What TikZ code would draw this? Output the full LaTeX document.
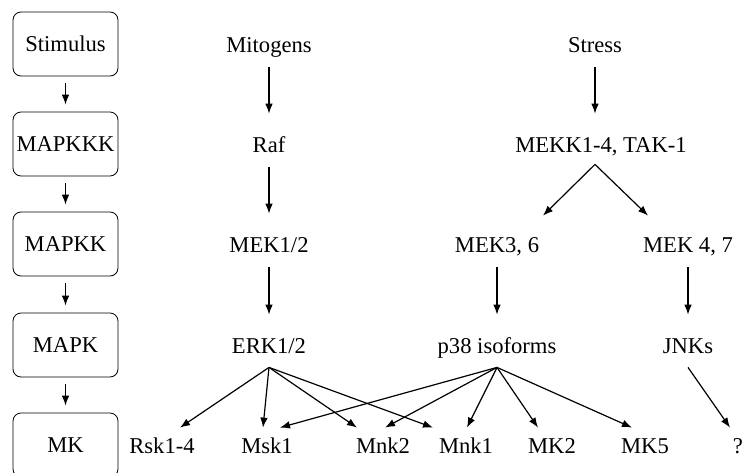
\documentclass[tikz,border=0pt]{standalone}
\usepackage{fontspec}
\setmainfont{Liberation Serif}
\usetikzlibrary{calc,arrows.meta}

\begin{document}
\begin{tikzpicture}[x=0.5pt,y=-0.5pt,
    font=\fontsize{11.3}{13}\selectfont,
    level/.style={draw,rounded corners=4pt,minimum width=52.5pt,minimum height=32pt,inner sep=0pt},
    kin/.style={anchor=base,inner sep=0pt,text height=8pt,text depth=2.5pt},
    arr/.style={-{Latex[length=5pt,width=3.8pt]},line width=.6pt},
    down/.style={arr,shorten <=5pt,shorten >=11pt}]
  \useasboundingbox (0,0) rectangle (745,472);
  % cascade levels
  \node[level] (stim)   at (65.5,44)  {Stimulus};
  \node[level] (mapkkk) at (65.5,144) {MAPKKK};
  \node[level] (mapkk)  at (65.5,244) {MAPKK};
  \node[level] (mapk)   at (65.5,345) {MAPK};
  \node[level] (mk)     at (65.5,445) {MK};
  \foreach \a/\b in {stim/mapkkk,mapkkk/mapkk,mapkk/mapk,mapk/mk}
    \draw[arr,shorten <=3.5pt,shorten >=3.5pt] (\a) -- (\b);

  % mitogen branch
  \node[kin] (mito)  at (269,52)  {Mitogens};
  \node[kin] (raf)   at (269,152) {Raf};
  \node[kin] (mek12) at (269,252) {MEK1/2};
  \node[kin] (erk)   at (269,353) {ERK1/2};
  \draw[down] (mito) -- (raf);
  \draw[down] (raf) -- (mek12);
  \draw[down] (mek12) -- (erk);

  % stress branch
  \node[kin] (stress) at (595,52)  {Stress};
  \node[kin] (mekk)   at (601,152) {MEKK1-4, TAK-1};
  \node[kin] (mek36)  at (497,252) {MEK3, 6};
  \node[kin] (mek47)  at (688,252) {MEK 4, 7};
  \node[kin] (p38)    at (497,353) {p38 isoforms};
  \node[kin] (jnk)    at (688,353) {JNKs};
  \draw[down] (stress.south) -- (stress.south |- mekk.north);
  \draw[arr] ($(mekk.south)+(-6,7)$) -- ($(mek36.north)+(46,-20)$);
  \draw[arr] ($(mekk.south)+(-6,7)$) -- ($(mek47.north)+(-40,-20)$);
  \draw[down] (mek36) -- (p38);
  \draw[down] (mek47) -- (jnk);

  % substrates
  \node[kin] (rsk)    at (162,453) {Rsk1-4};
  \node[kin] (msk)    at (267,453) {Msk1};
  \node[kin] (mnk2)   at (383,453) {Mnk2};
  \node[kin] (mnk1)   at (466,453) {Mnk1};
  \node[kin] (mk2)    at (552,453) {MK2};
  \node[kin] (mk5)    at (645,453) {MK5};
  \node[kin] (unk)    at (738,453) {?};
  \foreach \t/\dx in {rsk/18,msk/-4,mnk2/-26,mnk1/-33}
    \draw[arr] ($(erk.south)+(0,9)$) -- ($(\t.north)+(\dx,-9)$);
  \foreach \t/\dx in {msk/13,mnk2/2,mnk1/1,mk2/-14,mk5/-13}
    \draw[arr] ($(p38.south)+(0,9)$) -- ($(\t.north)+(\dx,-9)$);
  \draw[arr] ($(jnk.south)+(0,9)$) -- ($(unk.north)+(-8,-9)$);
\end{tikzpicture}
\end{document}
